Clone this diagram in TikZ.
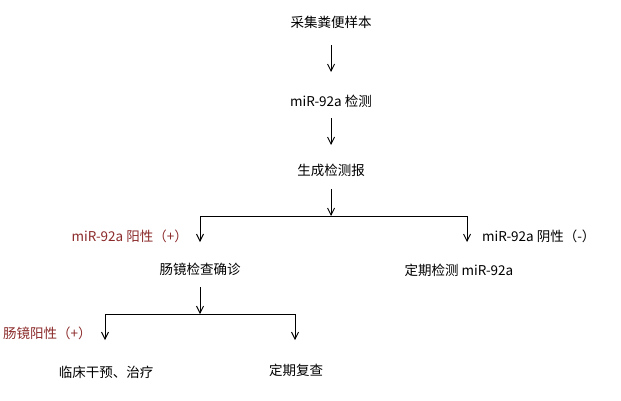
\documentclass[tikz,border=0pt]{standalone}
\usepackage{fontspec}
\setmainfont{Noto Sans CJK SC}
\usetikzlibrary{arrows.meta}
\definecolor{darkred}{HTML}{8B2A2A}
\tikzset{
  txt/.style={inner sep=0pt, font=\fontsize{13.5}{16}\selectfont, text=black},
  redtxt/.style={txt, text=darkred},
  arr/.style={-{Straight Barb[length=7pt,width=7pt]}, line width=0.9pt, black},
  ln/.style={line width=0.9pt, black}
}
\begin{document}
\begin{tikzpicture}[x=1pt,y=-1pt]
\useasboundingbox (0,0) rectangle (621,400);
\node[txt] (a) at (331,22) {采集粪便样本};
\node[txt] (b) at (331,101) {miR-92a 检测};
\node[txt] (c) at (331,170) {生成检测报};
\node[redtxt, anchor=east] (pos) at (188,236) {miR-92a 阳性（+）};
\node[txt, anchor=west] (neg) at (482,236) {miR-92a 阴性（-）};
\node[txt] (d) at (200,269) {肠镜检查确诊};
\node[txt] (e) at (459,270) {定期检测 miR-92a};
\node[redtxt, anchor=west] (cpos) at (3,333) {肠镜阳性（+）};
\node[txt] (f) at (106,372) {临床干预、治疗};
\node[txt] (g) at (296,370) {定期复查};

\coordinate (j1) at (331,216);
\coordinate (l1) at (200,216);
\coordinate (r1) at (467,216);
\coordinate (l1t) at (200,242);
\coordinate (r1t) at (467,242);
\coordinate (j2) at (200,314);
\coordinate (l2) at (105,314);
\coordinate (r2) at (295,314);
\coordinate (l2t) at (105,340);
\coordinate (r2t) at (295,340);

\draw[arr] (331,45) -- (331,72);
\draw[arr] (331,118) -- (331,145);
\draw[arr] (331,189) -- (j1);
\draw[ln] (l1) -- (r1);
\draw[arr] (l1) -- (l1t);
\draw[arr] (r1) -- (r1t);
\draw[arr] (200,287) -- (j2);
\draw[ln] (l2) -- (r2);
\draw[arr] (l2) -- (l2t);
\draw[arr] (r2) -- (r2t);
\end{tikzpicture}
\end{document}
